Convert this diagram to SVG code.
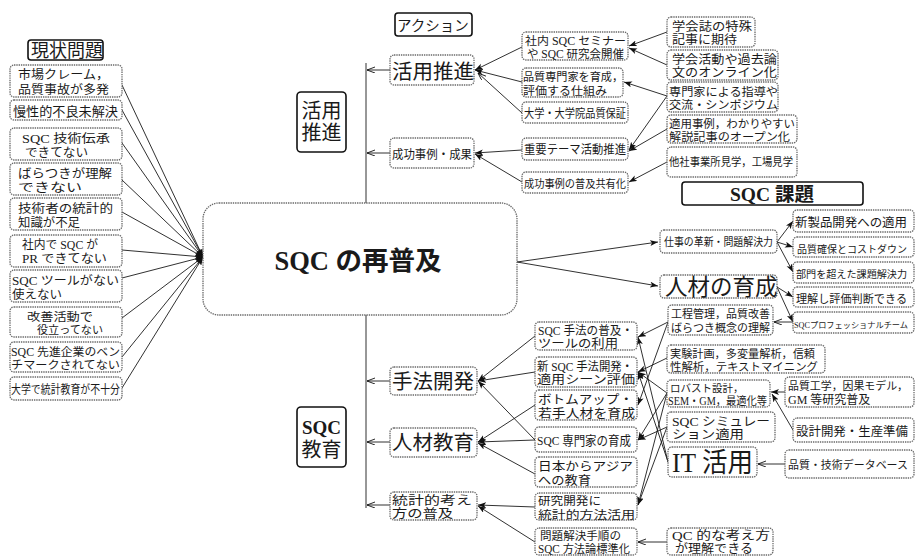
<svg xmlns="http://www.w3.org/2000/svg" width="915" height="556" viewBox="0 0 915 556">
<defs>
<marker id="ah" markerUnits="userSpaceOnUse" markerWidth="9" markerHeight="7" refX="8" refY="3" orient="auto"><path d="M0,0 L8,3 L0,6 L2,3 z" fill="#111"/></marker>
<marker id="ao" markerUnits="userSpaceOnUse" markerWidth="9" markerHeight="7" refX="8" refY="3" orient="auto"><path d="M0,0 L8,3 L0,6" fill="none" stroke="#111" stroke-width="0.9"/></marker>
</defs>
<style>
text{font-family:"Liberation Serif","Noto Sans CJK JP",serif;fill:#1a1a1a;}
.b{fill:#fff;stroke:#6a6a6a;stroke-width:1.3;stroke-dasharray:1.4 0.9;}
.t{fill:#fff;stroke:#111;stroke-width:1.6;}
.c line{stroke:#1a1a1a;stroke-width:0.9;fill:none;marker-end:url(#ah);}
.c .o{marker-end:url(#ao);}
.c .n{marker-end:none;}
.bold{font-weight:bold;}
</style>
<rect width="915" height="556" fill="#fff"/>
<g class="c" id="connectors">
<line class="n" x1="366" y1="63" x2="366" y2="508"/>
<line class="o" x1="390" y1="70" x2="367" y2="70"/>
<line class="o" x1="390" y1="153" x2="367" y2="153"/>
<line class="o" x1="390" y1="381" x2="367" y2="381"/>
<line class="o" x1="390" y1="442" x2="367" y2="442"/>
<line class="o" x1="390" y1="505" x2="367" y2="505"/>
<line x1="122" y1="85" x2="203" y2="257"/>
<line x1="122" y1="110" x2="203" y2="257"/>
<line x1="122" y1="143" x2="203" y2="257"/>
<line x1="122" y1="180" x2="203" y2="257"/>
<line x1="122" y1="212" x2="203" y2="257"/>
<line x1="122" y1="250" x2="203" y2="257"/>
<line x1="122" y1="278" x2="203" y2="257"/>
<line x1="122" y1="318" x2="203" y2="257"/>
<line x1="122" y1="357" x2="203" y2="257"/>
<line x1="122" y1="388" x2="203" y2="257"/>
<line x1="517" y1="262" x2="658" y2="242"/>
<line x1="517" y1="262" x2="658" y2="286"/>
<line x1="522" y1="47" x2="475" y2="70"/>
<line x1="522" y1="82" x2="475" y2="70"/>
<line class="o" x1="522" y1="113" x2="478" y2="73"/>
<line x1="522" y1="150" x2="475" y2="153"/>
<line x1="522" y1="182" x2="475" y2="154"/>
<line x1="667" y1="32" x2="629" y2="46"/>
<line x1="667" y1="65" x2="629" y2="48"/>
<line x1="667" y1="96" x2="624" y2="82"/>
<line x1="667" y1="96" x2="629" y2="150"/>
<line x1="667" y1="129" x2="629" y2="151"/>
<line x1="667" y1="162" x2="629" y2="182"/>
<line x1="777" y1="242" x2="793" y2="221"/>
<line x1="777" y1="242" x2="793" y2="247"/>
<line x1="777" y1="242" x2="793" y2="272"/>
<line x1="777" y1="287" x2="793" y2="297"/>
<line x1="777" y1="287" x2="793" y2="322"/>
<line class="o" x1="793" y1="322" x2="774" y2="322"/>
<line x1="535" y1="336" x2="478" y2="381"/>
<line x1="535" y1="372" x2="478" y2="381"/>
<line x1="535" y1="440" x2="478" y2="381"/>
<line x1="535" y1="405" x2="478" y2="442"/>
<line x1="535" y1="440" x2="478" y2="442"/>
<line x1="535" y1="474" x2="478" y2="443"/>
<line x1="535" y1="507" x2="478" y2="505"/>
<line x1="535" y1="542" x2="478" y2="506"/>
<line x1="668" y1="322" x2="638" y2="337"/>
<line x1="668" y1="322" x2="638" y2="405"/>
<line x1="667" y1="358" x2="638" y2="372"/>
<line x1="667" y1="393" x2="638" y2="372"/>
<line x1="667" y1="393" x2="638" y2="440"/>
<line x1="667" y1="393" x2="638" y2="505"/>
<line x1="667" y1="427" x2="638" y2="440"/>
<line x1="667" y1="427" x2="638" y2="505"/>
<line x1="668" y1="462" x2="638" y2="337"/>
<line x1="668" y1="462" x2="638" y2="372"/>
<line x1="785" y1="392" x2="771" y2="392"/>
<line x1="793" y1="430" x2="772" y2="394"/>
<line class="o" x1="785" y1="464" x2="758" y2="464"/>
<line class="o" x1="667" y1="542" x2="638" y2="542"/>
</g>

<g id="title-genjo"><rect class="t" x="28" y="40" width="75" height="20" rx="3"/><text x="31" y="57" font-size="18">現状問題</text></g>
<g id="p1"><rect class="b" x="10" y="65" width="112" height="32" rx="4"/><text x="18" y="79" font-size="12" textLength="91" lengthAdjust="spacingAndGlyphs">市場クレーム，</text><text x="18" y="93.5" font-size="12" textLength="91" lengthAdjust="spacingAndGlyphs">品質事故が多発</text></g>
<g id="p2"><rect class="b" x="10" y="100" width="112" height="20" rx="4"/><text x="13" y="116" font-size="13" textLength="105" lengthAdjust="spacingAndGlyphs">慢性的不良未解決</text></g>
<g id="p3"><rect class="b" x="10" y="128" width="112" height="32" rx="4"/><text x="22" y="143" font-size="12" textLength="88" lengthAdjust="spacingAndGlyphs">SQC 技術伝承</text><text x="25" y="157" font-size="12" textLength="63" lengthAdjust="spacingAndGlyphs">できてない</text></g>
<g id="p4"><rect class="b" x="10" y="163" width="112" height="32" rx="4"/><text x="18" y="178" font-size="12" textLength="94" lengthAdjust="spacingAndGlyphs">ばらつきが理解</text><text x="18" y="192" font-size="12" textLength="64" lengthAdjust="spacingAndGlyphs">できない</text></g>
<g id="p5"><rect class="b" x="10" y="198" width="112" height="32" rx="4"/><text x="18" y="213" font-size="12" textLength="95" lengthAdjust="spacingAndGlyphs">技術者の統計的</text><text x="18" y="227" font-size="12" textLength="62" lengthAdjust="spacingAndGlyphs">知識が不足</text></g>
<g id="p6"><rect class="b" x="10" y="235" width="112" height="32" rx="4"/><text x="22" y="249" font-size="12" textLength="76" lengthAdjust="spacingAndGlyphs">社内で SQC が</text><text x="22" y="263" font-size="12" textLength="85" lengthAdjust="spacingAndGlyphs">PR できてない</text></g>
<g id="p7"><rect class="b" x="10" y="270" width="112" height="32" rx="4"/><text x="12" y="285" font-size="12" textLength="107" lengthAdjust="spacingAndGlyphs">SQC ツールがない</text><text x="12" y="299" font-size="12" textLength="50" lengthAdjust="spacingAndGlyphs">使えない</text></g>
<g id="p8"><rect class="b" x="10" y="307" width="112" height="30" rx="4"/><text x="27" y="320.5" font-size="11.5" textLength="66" lengthAdjust="spacingAndGlyphs">改善活動で</text><text x="37" y="334" font-size="11.5" textLength="66" lengthAdjust="spacingAndGlyphs">役立ってない</text></g>
<g id="p9"><rect class="b" x="10" y="342" width="112" height="30" rx="4"/><text x="11" y="355.5" font-size="11.5" textLength="109" lengthAdjust="spacingAndGlyphs">SQC 先進企業のベン</text><text x="11" y="369" font-size="11.5" textLength="109" lengthAdjust="spacingAndGlyphs">チマークされてない</text></g>
<g id="p10"><rect class="b" x="10" y="377" width="112" height="23" rx="4"/><text x="11" y="394" font-size="12" textLength="109" lengthAdjust="spacingAndGlyphs">大学で統計教育が不十分</text></g>

<g id="center"><rect class="b" x="203" y="203" width="314" height="112" rx="16"/><text x="358" y="270" font-size="26.5" class="bold" text-anchor="middle">SQC の再普及</text></g>

<g id="title-action"><rect class="t" x="395" y="13" width="77" height="23" rx="3"/><text x="397" y="31" font-size="14.5">アクション</text></g>
<g id="label-katsuyo"><rect class="t" x="297" y="92" width="49" height="60" rx="4"/><text x="321.5" y="118" font-size="20" text-anchor="middle">活用</text><text x="321.5" y="140" font-size="20" text-anchor="middle">推進</text></g>
<g id="label-kyoiku"><rect class="t" x="297" y="407" width="49" height="60" rx="4"/><text x="321.5" y="434" font-size="19" class="bold" text-anchor="middle">SQC</text><text x="321.5" y="457" font-size="20" text-anchor="middle">教育</text></g>

<g id="a1"><rect class="b" x="390" y="55" width="84" height="30" rx="4"/><text x="392" y="78.5" font-size="20.5">活用推進</text></g>
<g id="a2"><rect class="b" x="390" y="138" width="84" height="30" rx="4"/><text x="392" y="159" font-size="12" textLength="80" lengthAdjust="spacingAndGlyphs">成功事例・成果</text></g>
<g id="a3"><rect class="b" x="390" y="367" width="87" height="28" rx="4"/><text x="392" y="388.5" font-size="20.5">手法開発</text></g>
<g id="a4"><rect class="b" x="390" y="428" width="87" height="29" rx="4"/><text x="392" y="450" font-size="20.5">人材教育</text></g>
<g id="a5"><rect class="b" x="390" y="492" width="87" height="28" rx="4"/><text x="392" y="504.5" font-size="12.5" textLength="80" lengthAdjust="spacingAndGlyphs">統計的考え</text><text x="392" y="518" font-size="12.5" textLength="61" lengthAdjust="spacingAndGlyphs">方の普及</text></g>

<g id="m1"><rect class="b" x="522" y="32" width="106" height="28" rx="4"/><text x="525" y="45" font-size="11.5" textLength="101" lengthAdjust="spacingAndGlyphs">社内 SQC セミナー</text><text x="527" y="58" font-size="11.5" textLength="97" lengthAdjust="spacingAndGlyphs">や SQC 研究会開催</text></g>
<g id="m2"><rect class="b" x="522" y="68" width="101" height="29" rx="4"/><text x="523" y="81" font-size="11.5" textLength="100" lengthAdjust="spacingAndGlyphs">品質専門家を育成，</text><text x="523" y="94.5" font-size="11.5" textLength="84" lengthAdjust="spacingAndGlyphs">評価する仕組み</text></g>
<g id="m3"><rect class="b" x="522" y="102" width="106" height="21" rx="4"/><text x="524" y="117.5" font-size="12" textLength="102" lengthAdjust="spacingAndGlyphs">大学・大学院品質保証</text></g>
<g id="m4"><rect class="b" x="522" y="138" width="106" height="22" rx="4"/><text x="524" y="154" font-size="12" textLength="102" lengthAdjust="spacingAndGlyphs">重要テーマ活動推進</text></g>
<g id="m5"><rect class="b" x="522" y="172" width="106" height="21" rx="4"/><text x="524" y="187.5" font-size="11.5" textLength="102" lengthAdjust="spacingAndGlyphs">成功事例の普及共有化</text></g>

<g id="r1"><rect class="b" x="667" y="17" width="88" height="30" rx="4"/><text x="672" y="30.5" font-size="12" textLength="80" lengthAdjust="spacingAndGlyphs">学会誌の特殊</text><text x="672" y="44" font-size="12" textLength="65" lengthAdjust="spacingAndGlyphs">記事に期待</text></g>
<g id="r2"><rect class="b" x="667" y="50" width="111" height="30" rx="4"/><text x="672" y="63.5" font-size="12" textLength="105" lengthAdjust="spacingAndGlyphs">学会活動や過去論</text><text x="672" y="77" font-size="12" textLength="105" lengthAdjust="spacingAndGlyphs">文のオンライン化</text></g>
<g id="r3"><rect class="b" x="667" y="82" width="111" height="30" rx="4"/><text x="669" y="95.5" font-size="11.5" textLength="109" lengthAdjust="spacingAndGlyphs">専門家による指導や</text><text x="669" y="109" font-size="11.5" textLength="109" lengthAdjust="spacingAndGlyphs">交流・シンポジウム</text></g>
<g id="r4"><rect class="b" x="667" y="115" width="130" height="28" rx="4"/><text x="669" y="127.5" font-size="11.5" textLength="126" lengthAdjust="spacingAndGlyphs">適用事例，わかりやすい</text><text x="669" y="140.5" font-size="11.5" textLength="121" lengthAdjust="spacingAndGlyphs">解説記事のオープン化</text></g>
<g id="r5"><rect class="b" x="667" y="147" width="130" height="30" rx="4"/><text x="669" y="166" font-size="11.5" textLength="124" lengthAdjust="spacingAndGlyphs">他社事業所見学，工場見学</text></g>

<g id="title-kadai"><rect class="t" x="682" y="182" width="181" height="23" rx="3"/><text x="772" y="201" font-size="19.5" class="bold" text-anchor="middle">SQC 課題</text></g>
<g id="k1"><rect class="b" x="660" y="230" width="117" height="23" rx="4"/><text x="664" y="246" font-size="11" textLength="109" lengthAdjust="spacingAndGlyphs">仕事の革新・問題解決力</text></g>
<g id="k2"><rect class="b" x="660" y="275" width="117" height="23" rx="4"/><text x="665" y="295" font-size="22.5">人材の育成</text></g>
<g id="k3"><rect class="b" x="793" y="210" width="121" height="22" rx="4"/><text x="795" y="227" font-size="12.5" textLength="112" lengthAdjust="spacingAndGlyphs">新製品開発への適用</text></g>
<g id="k4"><rect class="b" x="793" y="237" width="121" height="20" rx="4"/><text x="797" y="252.5" font-size="10" textLength="110" lengthAdjust="spacingAndGlyphs">品質確保とコストダウン</text></g>
<g id="k5"><rect class="b" x="793" y="262" width="121" height="21" rx="4"/><text x="796" y="278" font-size="10.1" textLength="111" lengthAdjust="spacingAndGlyphs">部門を超えた課題解決力</text></g>
<g id="k6"><rect class="b" x="793" y="287" width="121" height="20" rx="4"/><text x="796" y="303" font-size="11.1" textLength="111" lengthAdjust="spacingAndGlyphs">理解し評価判断できる</text></g>
<g id="k7"><rect class="b" x="793" y="312" width="121" height="21" rx="4"/><text x="794" y="327.5" font-size="8.2" textLength="114" lengthAdjust="spacingAndGlyphs">SQCプロフェッショナルチーム</text></g>

<g id="b1"><rect class="b" x="535" y="322" width="102" height="28" rx="4"/><text x="538" y="334.5" font-size="12" textLength="95" lengthAdjust="spacingAndGlyphs">SQC 手法の普及・</text><text x="538" y="347.5" font-size="12" textLength="80" lengthAdjust="spacingAndGlyphs">ツールの利用</text></g>
<g id="b2"><rect class="b" x="535" y="357" width="102" height="30" rx="4"/><text x="537" y="370.5" font-size="12" textLength="96" lengthAdjust="spacingAndGlyphs">新 SQC 手法開発・</text><text x="537" y="384" font-size="12" textLength="98" lengthAdjust="spacingAndGlyphs">適用シーン評価</text></g>
<g id="b3"><rect class="b" x="535" y="390" width="102" height="30" rx="4"/><text x="538" y="403.5" font-size="12.3" textLength="95" lengthAdjust="spacingAndGlyphs">ボトムアップ・</text><text x="538" y="417.5" font-size="12.3" textLength="97" lengthAdjust="spacingAndGlyphs">若手人材を育成</text></g>
<g id="b4"><rect class="b" x="535" y="427" width="102" height="25" rx="4"/><text x="537" y="445" font-size="13" textLength="94" lengthAdjust="spacingAndGlyphs">SQC 専門家の育成</text></g>
<g id="b5"><rect class="b" x="535" y="457" width="102" height="30" rx="4"/><text x="538" y="470.5" font-size="12.3" textLength="95" lengthAdjust="spacingAndGlyphs">日本からアジア</text><text x="538" y="484.5" font-size="12.3" textLength="53" lengthAdjust="spacingAndGlyphs">への教育</text></g>
<g id="b6"><rect class="b" x="535" y="493" width="102" height="27" rx="4"/><text x="538" y="505" font-size="11.8" textLength="63" lengthAdjust="spacingAndGlyphs">研究開発に</text><text x="538" y="518.5" font-size="11.8" textLength="97" lengthAdjust="spacingAndGlyphs">統計的方法活用</text></g>
<g id="b7"><rect class="b" x="535" y="528" width="102" height="27" rx="4"/><text x="540" y="540" font-size="11.3" textLength="81" lengthAdjust="spacingAndGlyphs">問題解決手順の</text><text x="538" y="553" font-size="11.8" textLength="92" lengthAdjust="spacingAndGlyphs">SQC 方法論標準化</text></g>

<g id="c1"><rect class="b" x="668" y="305" width="105" height="30" rx="4"/><text x="671" y="318" font-size="11" textLength="99" lengthAdjust="spacingAndGlyphs">工程管理，品質改善</text><text x="671" y="331.5" font-size="11" textLength="99" lengthAdjust="spacingAndGlyphs">ばらつき概念の理解</text></g>
<g id="c2"><rect class="b" x="667" y="345" width="158" height="28" rx="4"/><text x="670" y="357.5" font-size="11" textLength="145" lengthAdjust="spacingAndGlyphs">実験計画，多変量解析，信頼</text><text x="670" y="370.5" font-size="11" textLength="148" lengthAdjust="spacingAndGlyphs">性解析，テキストマイニング</text></g>
<g id="c3"><rect class="b" x="667" y="380" width="103" height="27" rx="4"/><text x="670" y="392" font-size="10.5">ロバスト設計，</text><text x="668" y="405" font-size="11.5" textLength="99" lengthAdjust="spacingAndGlyphs">SEM・GM，最適化等</text></g>
<g id="c4"><rect class="b" x="667" y="412" width="108" height="30" rx="4"/><text x="672" y="425.5" font-size="12.3" textLength="98" lengthAdjust="spacingAndGlyphs">SQC シミュレー</text><text x="672" y="439" font-size="12.3" textLength="72" lengthAdjust="spacingAndGlyphs">ション適用</text></g>
<g id="c5"><rect class="b" x="668" y="447" width="89" height="30" rx="4"/><text x="672" y="472" font-size="27" textLength="81" lengthAdjust="spacingAndGlyphs">IT 活用</text></g>
<g id="c6"><rect class="b" x="667" y="528" width="106" height="27" rx="4"/><text x="672" y="540" font-size="12.3" textLength="98" lengthAdjust="spacingAndGlyphs">QC 的な考え方</text><text x="675" y="553" font-size="12.3" textLength="78" lengthAdjust="spacingAndGlyphs">が理解できる</text></g>
<g id="d1"><rect class="b" x="785" y="377" width="129" height="30" rx="4"/><text x="788" y="390" font-size="10.9" textLength="120" lengthAdjust="spacingAndGlyphs">品質工学，因果モデル，</text><text x="788" y="404" font-size="12">GM 等研究普及</text></g>
<g id="d2"><rect class="b" x="793" y="418" width="121" height="24" rx="4"/><text x="796" y="436" font-size="12.4" textLength="112" lengthAdjust="spacingAndGlyphs">設計開発・生産準備</text></g>
<g id="d3"><rect class="b" x="785" y="450" width="129" height="28" rx="4"/><text x="788" y="469" font-size="10.9" textLength="120" lengthAdjust="spacingAndGlyphs">品質・技術データベース</text></g>
</svg>
